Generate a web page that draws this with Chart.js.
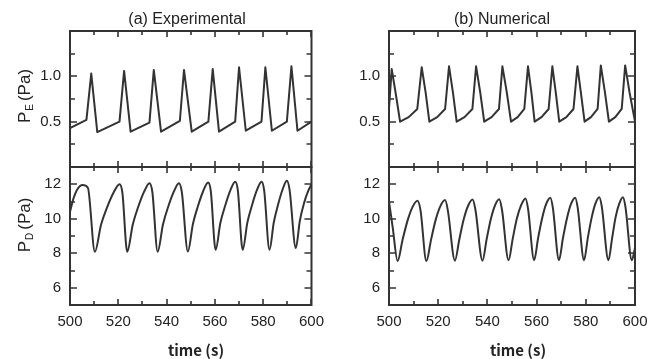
<!DOCTYPE html>
<html>
<head>
<meta charset="utf-8">
<script src="https://cdn.jsdelivr.net/npm/chart.js@4.4.1/dist/chart.umd.min.js"></script>
<style>
  body { margin: 0; background: #fff; }
  #wrap { position: relative; width: 664px; height: 359px; overflow: hidden;
          font-family: "Liberation Sans", Arial, sans-serif; color: #222; }
  canvas { position: absolute; top: 0; }
  .title { position: absolute; font-size: 16px; transform: translate(-50%, -50%); white-space: nowrap; }
  .ylab { position: absolute; font-size: 17px; line-height: 1; white-space: nowrap;
          transform: translate(-50%, -50%) rotate(-90deg); }
  .ylab sub { font-size: 10px; vertical-align: -3px; margin: 0 3px 0 1px; }
  .xlab { position: absolute; font-family: "Noto Sans CJK JP", sans-serif; font-weight: bold;
          font-size: 15px; transform: translate(-50%, -50%); white-space: nowrap; }
</style>
</head>
<body>
<div id="wrap">
  <canvas id="expChart" width="332" height="359" style="left:0"></canvas>
  <canvas id="numChart" width="332" height="359" style="left:332px"></canvas>
  <div class="title" style="left:187px; top:19px">(a) Experimental</div>
  <div class="title" style="left:502px; top:19px">(b) Numerical</div>
  <div class="ylab" style="left:25px; top:96px">P<sub>E</sub>(Pa)</div>
  <div class="ylab" style="left:25px; top:225px">P<sub>D</sub>(Pa)</div>
  <div class="xlab" style="left:196px; top:349px">time (s)</div>
  <div class="xlab" style="left:518px; top:349px">time (s)</div>
</div>
<script>
// Tick labels
const timeTicks = [500, 520, 540, 560, 580, 600];
const peTicks = [0.5, 1.0];
const pdTicks = [6, 8, 10, 12];

// (a) Experimental, P_E
const expTimeE = [500.0, 506.8, 508.8, 511.3, 520.5, 522.4, 525.1, 532.9, 534.7, 537.7,
    545.5, 547.2, 550.4, 557.3, 559.1, 561.7, 568.4, 570.0, 572.8, 579.3,
    580.9, 583.6, 589.8, 591.7, 594.2, 600.0];
const expPE = [0.43, 0.52, 1.03, 0.385, 0.50, 1.06, 0.39, 0.49, 1.07, 0.39,
    0.51, 1.07, 0.39, 0.50, 1.08, 0.39, 0.50, 1.10, 0.40, 0.50,
    1.10, 0.40, 0.50, 1.11, 0.40, 0.50];

// (a) Experimental, P_D
const expTimeD = [500.0, 501.5, 503.0, 505.2, 507.4, 510.3,
    512.85, 515.4, 517.95, 520.5, 521.7, 523.7,
    526.0, 528.3, 530.6, 532.9, 534.1, 536.3,
    538.5, 540.7, 542.9, 545.1, 546.3, 548.8,
    550.9, 553.0, 555.1, 557.2, 558.3, 560.3,
    562.3, 564.35, 566.4, 568.4, 569.5, 571.5,
    573.45, 575.4, 577.35, 579.3, 580.4, 582.6,
    584.4, 586.2, 588.0, 589.8, 590.9, 593.5,
    595.2, 596.9, 598.6, 600.0];
const expPD = [10.4, 11.2, 11.7, 11.95, 11.8, 8.08,
    9.65, 10.67, 11.49, 12.0, 11.5, 8.08,
    9.67, 10.71, 11.54, 12.06, 11.55, 8.08,
    9.67, 10.71, 11.54, 12.06, 11.55, 8.1,
    9.7, 10.74, 11.58, 12.1, 11.6, 8.2,
    9.78, 10.8, 11.64, 12.15, 11.65, 8.2,
    9.78, 10.8, 11.64, 12.15, 11.65, 8.2,
    9.8, 10.84, 11.68, 12.2, 11.7, 8.3,
    9.9, 10.9, 11.6, 12.0];

// (b) Numerical, P_E
const numTimeE = [500.0, 501.1, 502.8, 504.5, 508.0, 511.5, 513.3, 514.9, 516.4,
    519.6, 522.8, 524.4, 526.0, 527.5,
    530.7, 533.9, 535.4, 537.1, 538.7,
    541.7, 544.7, 546.1, 547.9, 549.6,
    552.3, 555.0, 556.5, 557.9, 559.2,
    562.0, 564.9, 566.4, 567.8, 569.2,
    572.1, 575.0, 576.6, 578.0, 579.5,
    582.1, 584.8, 586.1, 587.8, 589.4,
    592.0, 594.6, 596.0, 597.8, 600.0];
const numPE = [0.65, 1.08, 0.80, 0.50, 0.55, 0.64, 1.10, 0.82, 0.50,
    0.55, 0.64, 1.11, 0.82, 0.50,
    0.55, 0.64, 1.11, 0.82, 0.50,
    0.55, 0.64, 1.11, 0.82, 0.50,
    0.55, 0.64, 1.11, 0.82, 0.50,
    0.55, 0.64, 1.11, 0.82, 0.50,
    0.55, 0.64, 1.11, 0.82, 0.50,
    0.55, 0.64, 1.12, 0.82, 0.50,
    0.55, 0.64, 1.12, 0.82, 0.50];

// (b) Numerical, P_D
const numTimeD = [500.0, 501.5, 503.5,
    505.5, 507.6, 509.6, 511.6, 512.8, 515.2,
    517.1, 519.0, 520.9, 522.8, 523.9, 526.8,
    528.6, 530.4, 532.2, 534.0, 535.1, 538.0,
    539.7, 541.4, 543.1, 544.8, 545.9, 548.6,
    550.3, 552.0, 553.8, 555.5, 556.5, 559.0,
    560.6, 562.3, 563.9, 565.6, 566.6, 569.1,
    570.7, 572.4, 574.0, 575.7, 576.7, 579.3,
    580.8, 582.4, 583.9, 585.5, 586.5, 589.2,
    590.7, 592.1, 593.6, 595.1, 596.1, 598.7,
    600.0];
const numPD = [11.0, 9.5, 7.55,
    8.77, 9.92, 10.69, 11.04, 10.5, 7.55,
    8.79, 9.95, 10.73, 11.08, 10.5, 7.57,
    8.81, 9.98, 10.77, 11.12, 10.55, 7.57,
    8.82, 9.99, 10.78, 11.13, 10.55, 7.6,
    8.85, 10.03, 10.82, 11.18, 10.6, 7.6,
    8.87, 10.06, 10.86, 11.22, 10.65, 7.6,
    8.87, 10.06, 10.86, 11.22, 10.65, 7.6,
    8.88, 10.08, 10.88, 11.25, 10.7, 7.6,
    8.88, 10.08, 10.88, 11.25, 10.7, 7.6,
    8.3];

const FONT = "'Liberation Sans', Arial, sans-serif";
const INK = "#333";

function toPoints(xs, ys) {
    return xs.map((x, i) => ({ x: x, y: ys[i] }));
}

// Frame around each panel plus inward tick marks on all four sides
const frameTicks = {
    id: "frameTicks",
    afterDatasetsDraw(chart) {
        const ctx = chart.ctx;
        const xs = chart.scales.x;
        ctx.save();
        ctx.strokeStyle = INK;
        ctx.lineCap = "butt";
        ["yE", "yD"].forEach((id) => {
            const ys = chart.scales[id];
            const top = ys.top, bottom = ys.bottom, left = xs.left, right = xs.right;
            ctx.lineWidth = 1.6;
            ctx.beginPath();
            xs.ticks.forEach((t) => {
                const px = Math.round(xs.getPixelForValue(t.value));
                const len = timeTicks.includes(t.value) ? 6 : 4;
                ctx.moveTo(px, top); ctx.lineTo(px, top + len);
                ctx.moveTo(px, bottom); ctx.lineTo(px, bottom - len);
            });
            ys.ticks.forEach((t) => {
                const py = Math.round(ys.getPixelForValue(t.value));
                const len = t.label ? 7 : 5;
                ctx.moveTo(left, py); ctx.lineTo(left + len, py);
                ctx.moveTo(right, py); ctx.lineTo(right - len, py);
            });
            ctx.stroke();
            ctx.lineWidth = 2;
            ctx.strokeRect(left, top, right - left, bottom - top);
        });
        ctx.restore();
    }
};

function makeChart(canvasId, seriesE, seriesD, axisWidth, rightPad) {
    const tickFont = { family: FONT, size: 15 };
    return new Chart(document.getElementById(canvasId), {
        type: "line",
        data: {
            datasets: [
                // P_E: sharp spikes, straight segments
                { data: seriesE, yAxisID: "yE", tension: 0, cubicInterpolationMode: "default" },
                // P_D: smooth saw-tooth
                { data: seriesD, yAxisID: "yD", cubicInterpolationMode: "monotone" },
            ],
        },
        options: {
            responsive: false,
            animation: false,
            events: [],
            layout: { padding: { top: 31, right: rightPad, left: 0, bottom: 0 } },
            plugins: { legend: { display: false }, tooltip: { enabled: false } },
            elements: {
                point: { radius: 0 },
                line: { borderWidth: 2, borderColor: INK, fill: false, borderJoinStyle: "round" },
            },
            scales: {
                x: {
                    type: "linear", min: 500, max: 600,
                    grid: { display: false, drawTicks: false }, border: { display: false },
                    ticks: {
                        stepSize: 10, autoSkip: false, maxRotation: 0, padding: 8, color: "#222", font: tickFont,
                        callback: (v) => (timeTicks.includes(v) ? String(v) : ""),
                    },
                    afterFit: (s) => { s.height = 54; },
                },
                yD: {
                    type: "linear", position: "left", stack: "col", stackWeight: 138, min: 5, max: 13,
                    grid: { display: false, drawTicks: false }, border: { display: false },
                    ticks: {
                        stepSize: 1, autoSkip: false, padding: 9, color: "#222", font: tickFont,
                        callback: (v) => (pdTicks.includes(v) ? String(v) : ""),
                    },
                    afterFit: (s) => { s.width = axisWidth; },
                },
                yE: {
                    type: "linear", position: "left", stack: "col", stackWeight: 136, min: 0, max: 1.5,
                    grid: { display: false, drawTicks: false }, border: { display: false },
                    ticks: {
                        stepSize: 0.25, autoSkip: false, padding: 9, color: "#222", font: tickFont,
                        callback: (v) => (peTicks.includes(v) ? v.toFixed(1) : ""),
                    },
                    afterFit: (s) => { s.width = axisWidth; },
                },
            },
        },
        plugins: [frameTicks],
    });
}

makeChart("expChart", toPoints(expTimeE, expPE), toPoints(expTimeD, expPD), 70, 16);
makeChart("numChart", toPoints(numTimeE, numPE), toPoints(numTimeD, numPD), 57, 29);
</script>
</body>
</html>
